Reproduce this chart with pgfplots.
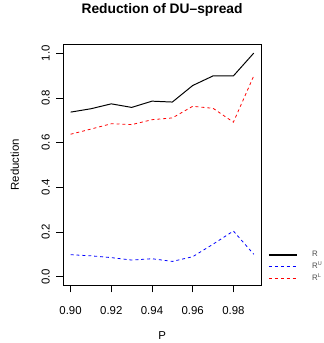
\documentclass[border=0pt]{standalone}
\usepackage{pgfplots}
\pgfplotsset{compat=1.18}
\usepackage{fontspec}
\setmainfont{Liberation Sans}
\begin{document}
\begin{tikzpicture}
\begin{axis}[
  scale only axis,
  width=201bp, height=245bp,
  xmin=0.8963, xmax=0.9936,
  ymin=-0.04, ymax=1.04,
  xtick={0.90,0.92,0.94,0.96,0.98},
  ytick={0,0.2,0.4,0.6,0.8,1.0},
  xtick pos=bottom, ytick pos=left,
  tick align=outside,
  major tick length=7bp,
  tick style={black, line width=0.6bp},
  axis line style={line width=0.8bp},
  /pgf/number format/assume math mode=true,
  xticklabel style={font=\fontsize{11.6bp}{13bp}\selectfont, yshift=-11bp, /pgf/number format/.cd, fixed, fixed zerofill, precision=2},
  yticklabel style={font=\fontsize{11.6bp}{13bp}\selectfont, rotate=90, anchor=south, yshift=3bp, /pgf/number format/.cd, fixed, fixed zerofill, precision=1},
  title={\bfseries Reduction of DU\textendash spread},
  title style={font=\fontsize{14bp}{16bp}\selectfont, at={(axis description cs:0.5,1.1184)}, anchor=center},
  xlabel={P},
  xlabel style={font=\fontsize{11.6bp}{13bp}\selectfont, at={(axis description cs:0.5,-0.2082)}, anchor=center},
  ylabel={Reduction},
  ylabel style={font=\fontsize{11.6bp}{13bp}\selectfont, at={(axis description cs:-0.2438,0.5)}, anchor=center, rotate=0},
  clip=false,
  legend cell align=left,
  legend style={at={([xshift=7bp]axis description cs:1,0.078)}, anchor=west, draw=none, fill=none,
     font=\fontsize{8bp}{9bp}\selectfont, row sep=2bp, inner sep=0pt,
     nodes={inner sep=1bp, text=black!70}},
  legend image code/.code={\draw[#1] (0bp,0bp) -- (28bp,0bp); \path (42bp,0bp);},
]
\addplot[black, line width=1bp, line join=round, legend image post style={line width=1.6bp}] coordinates {
(0.90,0.736) (0.91,0.751) (0.92,0.773) (0.93,0.757) (0.94,0.785)
(0.95,0.781) (0.96,0.855) (0.97,0.898) (0.98,0.898) (0.99,1.0)};
\addlegendentry{R}
\addplot[blue, line width=0.8bp, dash pattern=on 3bp off 3bp] coordinates {
(0.90,0.098) (0.91,0.093) (0.92,0.085) (0.93,0.074) (0.94,0.080)
(0.95,0.068) (0.96,0.089) (0.97,0.145) (0.98,0.204) (0.99,0.100)};
\addlegendentry{R\textsuperscript{U}}
\addplot[red, line width=0.8bp, dash pattern=on 3bp off 3bp] coordinates {
(0.90,0.637) (0.91,0.660) (0.92,0.684) (0.93,0.680) (0.94,0.702)
(0.95,0.710) (0.96,0.762) (0.97,0.753) (0.98,0.691) (0.99,0.898)};
\addlegendentry{R\textsuperscript{L}}
\end{axis}
\path ([shift={(-64bp,-56bp)}]current axis.south west) rectangle ++(327bp,343bp);
\end{tikzpicture}
\end{document}
